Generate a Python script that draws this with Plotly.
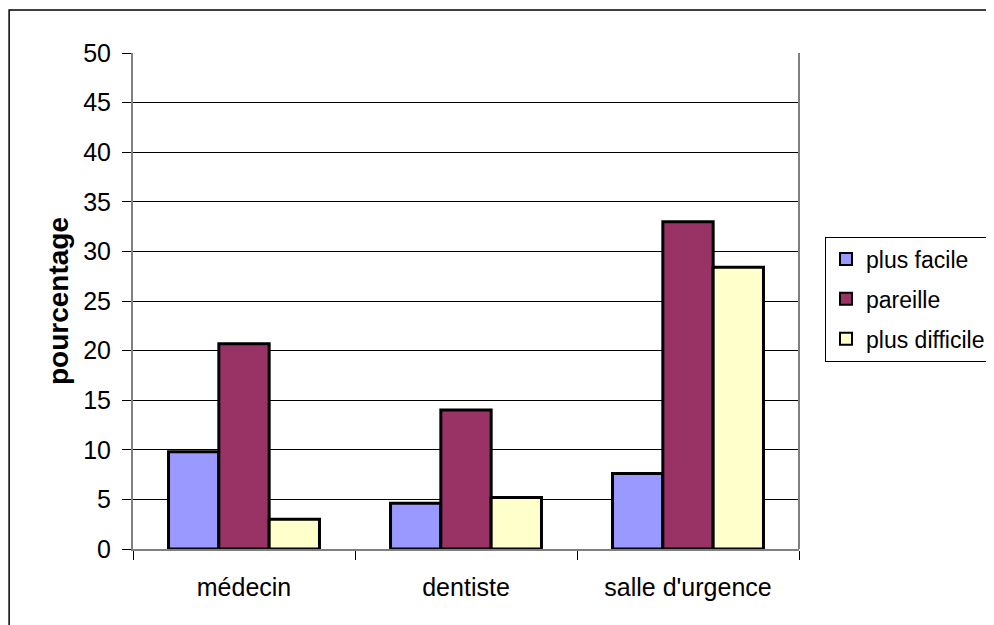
import plotly.graph_objects as go

categories = ["médecin", "dentiste", "salle d'urgence"]
series_names = ["plus facile", "pareille", "plus difficile"]
plus_facile = [9.8, 4.6, 7.6]
pareille = [20.7, 14.0, 33.0]
plus_difficile = [3.0, 5.2, 28.4]
colors = ["#9999FF", "#993366", "#FFFFCC"]
y_ticks = [0, 5, 10, 15, 20, 25, 30, 35, 40, 45, 50]

fig = go.Figure()
for name, vals, col in zip(series_names, [plus_facile, pareille, plus_difficile], colors):
    fig.add_trace(go.Bar(x=categories, y=vals, name=name, legendgroup=name,
                         marker=dict(color=col, line=dict(color="black", width=3))))

font = "Liberation Sans, Arial, sans-serif"
fig.update_layout(
    width=994, height=625,
    margin=dict(l=125, r=202, t=45, b=84),
    paper_bgcolor="white", plot_bgcolor="white",
    barmode="group", bargap=0.32, bargroupgap=0,
    font=dict(family=font, size=24, color="black"),
    showlegend=True,
    legend=dict(x=1.0375, y=0.63, xanchor="left", yanchor="top",
                bordercolor="black", borderwidth=1, bgcolor="white",
                font=dict(size=23, family=font), itemsizing="constant",
                itemwidth=30, traceorder="grouped", tracegroupgap=7),
    yaxis=dict(range=[0, 50], tickvals=y_ticks, showgrid=True, gridcolor="black",
               gridwidth=1, ticks="outside", ticklen=9, tickcolor="black",
               showline=True, linecolor="#808080", linewidth=2,
               title=dict(text="<b>pourcentage</b>", font=dict(size=28), standoff=6),
               tickfont=dict(size=25), zeroline=False, ticklabelstandoff=6),
    xaxis=dict(showline=True, linecolor="#808080", linewidth=2, mirror=False,
               ticks="outside", tickson="boundaries", ticklen=9, tickcolor="black",
               tickfont=dict(size=25), ticklabelstandoff=15),
)
# right border of plot area
fig.add_shape(type="line", xref="paper", yref="paper", x0=1, x1=1, y0=0, y1=1,
              line=dict(color="#808080", width=2))
# outer chart border
fig.add_shape(type="rect", xref="paper", yref="paper", x0=-0.186, x1=1.289,
              y0=-0.2, y1=1.0867, line=dict(color="black", width=1.5),
              fillcolor="rgba(0,0,0,0)", layer="below")

fig.write_html("out.html")
